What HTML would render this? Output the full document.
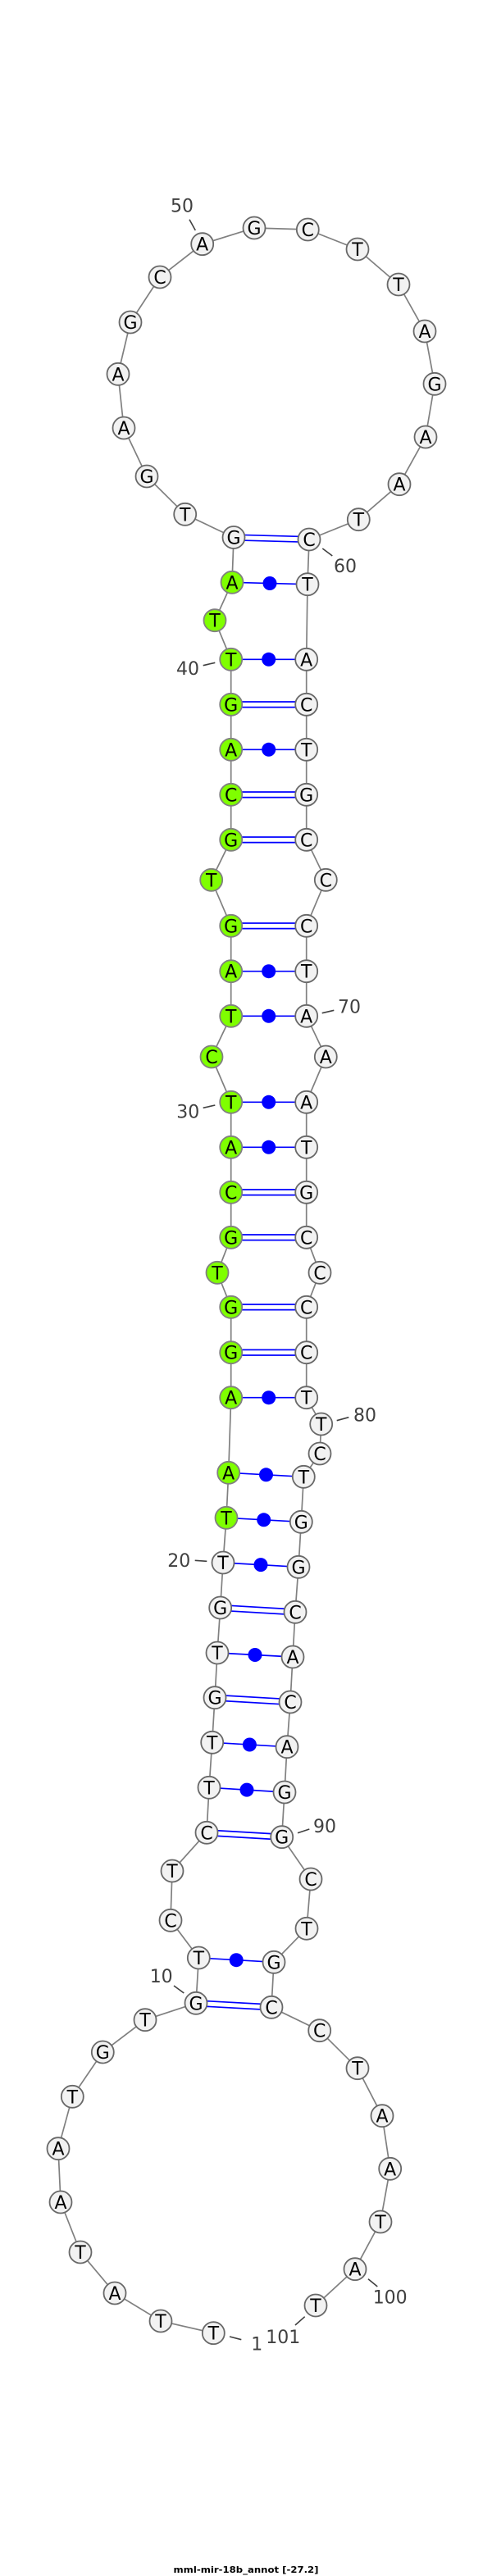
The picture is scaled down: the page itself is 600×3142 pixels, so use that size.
<!DOCTYPE html>
<html><head><meta charset="utf-8"><style>
html,body{margin:0;padding:0;background:#fff;width:600px;height:3142px;overflow:hidden}
svg{display:block}
.n circle{fill:#f2f2f2;stroke:#686868;stroke-width:1.8}
.g circle{fill:#7fff00;stroke:#808080;stroke-width:1.8}
.n text,.g text{font:22px "DejaVu Sans",sans-serif;fill:#000;text-anchor:middle;transform:translateY(.4px)}
.l text{font:22px "DejaVu Sans",sans-serif;fill:#404040;text-anchor:middle}
</style></head><body>
<svg width="600" height="3142" viewBox="0 0 600 3142" xmlns="http://www.w3.org/2000/svg">
<polyline fill="none" stroke="#808080" stroke-width="1.7" points="260.3,2845.7 196,2831 140,2797 98,2747 74,2686 71,2620.7 88.3,2557.3 125.3,2503 177,2463.7 239,2443.3 242.3,2388 208,2342.3 210,2282 252,2235.3 255,2180.3 258.7,2125.3 262,2070.7 265,2016 268.7,1961 272,1906 276,1851.3 278.7,1796.3 281.7,1704.7 281.7,1649.7 281.7,1594.3 265,1552.3 281.7,1509.3 281.7,1454.3 281.7,1399.3 281.7,1344.3 258,1289 281.7,1239.3 281.7,1184.7 281.7,1129.3 257.7,1073.3 281.7,1024.3 281.7,969.3 281.7,914.3 281.7,859.3 281.7,804.3 262,756.7 283,710.3 285,655.5 225.7,627.3 179,581 151,522 144,456.3 159,393 195,338 246.7,297.7 310,278 375.3,280 436,304 486,347 518,404 530,468.3 519,533 487,590.7 437.3,633.7 377,658 375,712.7 373.7,804.3 373.7,859.3 373.7,914.3 373.7,969.3 373.7,1024.3 397.3,1073.3 373.7,1129.3 373.7,1184.7 373.7,1239.3 397.3,1289 373.7,1344.3 373.7,1399.3 373.7,1454.3 373.7,1509.3 390,1552.3 373.7,1594.3 373.7,1649.7 373.7,1704.7 391.7,1737 390,1773 370.3,1801.3 367.3,1856.3 364,1911.3 360,1966.3 357,2021 354,2076 350,2130.7 347,2186 343.7,2240.7 379,2292 374,2352.3 334,2393.3 331,2448.3 389.7,2476.7 436,2522.7 466,2580.7 475.7,2645.3 464,2710 433,2767.7 385,2812"/>
<g fill="none" stroke="#0000ff" stroke-width="1.7">
<path d="M285 652.2L377 654.7M285 658.8L377 661.3"/>
<path d="M281.7 856L373.7 856M281.7 862.6L373.7 862.6"/>
<path d="M281.7 966L373.7 966M281.7 972.6L373.7 972.6"/>
<path d="M281.7 1021L373.7 1021M281.7 1027.6L373.7 1027.6"/>
<path d="M281.7 1126L373.7 1126M281.7 1132.6L373.7 1132.6"/>
<path d="M281.7 1451L373.7 1451M281.7 1457.6L373.7 1457.6"/>
<path d="M281.7 1506L373.7 1506M281.7 1512.6L373.7 1512.6"/>
<path d="M281.7 1591L373.7 1591M281.7 1597.6L373.7 1597.6"/>
<path d="M281.7 1646.4L373.7 1646.4M281.7 1653L373.7 1653"/>
<path d="M268.7 1957.7L360 1963M268.7 1964.3L360 1969.6"/>
<path d="M262 2067.4L354 2072.7M262 2074L354 2079.3"/>
<path d="M252 2232L343.7 2237.4M252 2238.6L343.7 2244"/>
<path d="M239 2440L331 2445M239 2446.6L331 2451.6"/>
<path d="M283 710.3L375 712.7M281.7 804.3L373.7 804.3M281.7 914.3L373.7 914.3M281.7 1184.7L373.7 1184.7M281.7 1239.3L373.7 1239.3M281.7 1344.3L373.7 1344.3M281.7 1399.3L373.7 1399.3M281.7 1704.7L373.7 1704.7M278.7 1796.3L370.3 1801.3M276 1851.3L367.3 1856.3M272 1906L364 1911.3M265 2016L357 2021M258.7 2125.3L350 2130.7M255 2180.3L347 2186M242.3 2388L334 2393.3"/>
</g>
<g fill="#0000ff">
<circle cx="329" cy="711.5" r="8.5"/><circle cx="327.7" cy="804.3" r="8.5"/><circle cx="327.7" cy="914.3" r="8.5"/><circle cx="327.7" cy="1184.7" r="8.5"/><circle cx="327.7" cy="1239.3" r="8.5"/><circle cx="327.7" cy="1344.3" r="8.5"/><circle cx="327.7" cy="1399.3" r="8.5"/><circle cx="327.7" cy="1704.7" r="8.5"/><circle cx="324.5" cy="1798.8" r="8.5"/><circle cx="321.7" cy="1853.8" r="8.5"/><circle cx="318" cy="1908.6" r="8.5"/><circle cx="311" cy="2018.5" r="8.5"/><circle cx="304.4" cy="2128" r="8.5"/><circle cx="301" cy="2183.1" r="8.5"/><circle cx="288.2" cy="2390.7" r="8.5"/>
</g>
<g stroke="#404040" stroke-width="1.6" fill="none">
<path d="M231 267.7L238.3 281M393.3 669L405.3 678M247.7 811.7L262.3 808.3M392.7 1235.7L407.3 1232.3M247.7 1351.3L262.3 1348M410.7 1732.7L425.3 1728.7M237.7 1903.3L252.3 1904.3M363 2235.7L377.3 2231M212 2422L224.3 2431M449 2779.7L460.3 2789M371.7 2825.7L360 2836M280 2850L294.3 2853.7"/>
</g>
<g class="l">
<text x="222" y="258.7">50</text><text x="421" y="698">60</text><text x="229" y="823">40</text><text x="426" y="1235.7">70</text><text x="229.3" y="1363.7">30</text><text x="445" y="1733.7">80</text><text x="218.3" y="1911">20</text><text x="396" y="2235">90</text><text x="196.7" y="2418">10</text><text x="475.7" y="2809.7">100</text><text x="345.3" y="2858">101</text><text x="313.3" y="2866.3">1</text>
</g>
<g class="n">
<g><circle cx="260.3" cy="2845.7" r="13.5"/><text x="260.3" y="2853.3">T</text></g>
<g><circle cx="196" cy="2831" r="13.5"/><text x="196" y="2838.6">T</text></g>
<g><circle cx="140" cy="2797" r="13.5"/><text x="140" y="2804.6">A</text></g>
<g><circle cx="98" cy="2747" r="13.5"/><text x="98" y="2754.6">T</text></g>
<g><circle cx="74" cy="2686" r="13.5"/><text x="74" y="2693.6">A</text></g>
<g><circle cx="71" cy="2620.7" r="13.5"/><text x="71" y="2628.3">A</text></g>
<g><circle cx="88.3" cy="2557.3" r="13.5"/><text x="88.3" y="2564.9">T</text></g>
<g><circle cx="125.3" cy="2503" r="13.5"/><text x="125.3" y="2510.6">G</text></g>
<g><circle cx="177" cy="2463.7" r="13.5"/><text x="177" y="2471.3">T</text></g>
<g><circle cx="239" cy="2443.3" r="13.5"/><text x="239" y="2450.9">G</text></g>
<g><circle cx="242.3" cy="2388" r="13.5"/><text x="242.3" y="2395.6">T</text></g>
<g><circle cx="208" cy="2342.3" r="13.5"/><text x="208" y="2349.9">C</text></g>
<g><circle cx="210" cy="2282" r="13.5"/><text x="210" y="2289.6">T</text></g>
<g><circle cx="252" cy="2235.3" r="13.5"/><text x="252" y="2242.9">C</text></g>
<g><circle cx="255" cy="2180.3" r="13.5"/><text x="255" y="2187.9">T</text></g>
<g><circle cx="258.7" cy="2125.3" r="13.5"/><text x="258.7" y="2132.9">T</text></g>
<g><circle cx="262" cy="2070.7" r="13.5"/><text x="262" y="2078.3">G</text></g>
<g><circle cx="265" cy="2016" r="13.5"/><text x="265" y="2023.6">T</text></g>
<g><circle cx="268.7" cy="1961" r="13.5"/><text x="268.7" y="1968.6">G</text></g>
<g><circle cx="272" cy="1906" r="13.5"/><text x="272" y="1913.6">T</text></g>
<g><circle cx="285" cy="655.5" r="13.5"/><text x="285" y="663.1">G</text></g>
<g><circle cx="225.7" cy="627.3" r="13.5"/><text x="225.7" y="634.9">T</text></g>
<g><circle cx="179" cy="581" r="13.5"/><text x="179" y="588.6">G</text></g>
<g><circle cx="151" cy="522" r="13.5"/><text x="151" y="529.6">A</text></g>
<g><circle cx="144" cy="456.3" r="13.5"/><text x="144" y="463.9">A</text></g>
<g><circle cx="159" cy="393" r="13.5"/><text x="159" y="400.6">G</text></g>
<g><circle cx="195" cy="338" r="13.5"/><text x="195" y="345.6">C</text></g>
<g><circle cx="246.7" cy="297.7" r="13.5"/><text x="246.7" y="305.3">A</text></g>
<g><circle cx="310" cy="278" r="13.5"/><text x="310" y="285.6">G</text></g>
<g><circle cx="375.3" cy="280" r="13.5"/><text x="375.3" y="287.6">C</text></g>
<g><circle cx="436" cy="304" r="13.5"/><text x="436" y="311.6">T</text></g>
<g><circle cx="486" cy="347" r="13.5"/><text x="486" y="354.6">T</text></g>
<g><circle cx="518" cy="404" r="13.5"/><text x="518" y="411.6">A</text></g>
<g><circle cx="530" cy="468.3" r="13.5"/><text x="530" y="475.9">G</text></g>
<g><circle cx="519" cy="533" r="13.5"/><text x="519" y="540.6">A</text></g>
<g><circle cx="487" cy="590.7" r="13.5"/><text x="487" y="598.3">A</text></g>
<g><circle cx="437.3" cy="633.7" r="13.5"/><text x="437.3" y="641.3">T</text></g>
<g><circle cx="377" cy="658" r="13.5"/><text x="377" y="665.6">C</text></g>
<g><circle cx="375" cy="712.7" r="13.5"/><text x="375" y="720.3">T</text></g>
<g><circle cx="373.7" cy="804.3" r="13.5"/><text x="373.7" y="811.9">A</text></g>
<g><circle cx="373.7" cy="859.3" r="13.5"/><text x="373.7" y="866.9">C</text></g>
<g><circle cx="373.7" cy="914.3" r="13.5"/><text x="373.7" y="921.9">T</text></g>
<g><circle cx="373.7" cy="969.3" r="13.5"/><text x="373.7" y="976.9">G</text></g>
<g><circle cx="373.7" cy="1024.3" r="13.5"/><text x="373.7" y="1031.9">C</text></g>
<g><circle cx="397.3" cy="1073.3" r="13.5"/><text x="397.3" y="1080.9">C</text></g>
<g><circle cx="373.7" cy="1129.3" r="13.5"/><text x="373.7" y="1136.9">C</text></g>
<g><circle cx="373.7" cy="1184.7" r="13.5"/><text x="373.7" y="1192.3">T</text></g>
<g><circle cx="373.7" cy="1239.3" r="13.5"/><text x="373.7" y="1246.9">A</text></g>
<g><circle cx="397.3" cy="1289" r="13.5"/><text x="397.3" y="1296.6">A</text></g>
<g><circle cx="373.7" cy="1344.3" r="13.5"/><text x="373.7" y="1351.9">A</text></g>
<g><circle cx="373.7" cy="1399.3" r="13.5"/><text x="373.7" y="1406.9">T</text></g>
<g><circle cx="373.7" cy="1454.3" r="13.5"/><text x="373.7" y="1461.9">G</text></g>
<g><circle cx="373.7" cy="1509.3" r="13.5"/><text x="373.7" y="1516.9">C</text></g>
<g><circle cx="390" cy="1552.3" r="13.5"/><text x="390" y="1559.9">C</text></g>
<g><circle cx="373.7" cy="1594.3" r="13.5"/><text x="373.7" y="1601.9">C</text></g>
<g><circle cx="373.7" cy="1649.7" r="13.5"/><text x="373.7" y="1657.3">C</text></g>
<g><circle cx="373.7" cy="1704.7" r="13.5"/><text x="373.7" y="1712.3">T</text></g>
<g><circle cx="391.7" cy="1737" r="13.5"/><text x="391.7" y="1744.6">T</text></g>
<g><circle cx="390" cy="1773" r="13.5"/><text x="390" y="1780.6">C</text></g>
<g><circle cx="370.3" cy="1801.3" r="13.5"/><text x="370.3" y="1808.9">T</text></g>
<g><circle cx="367.3" cy="1856.3" r="13.5"/><text x="367.3" y="1863.9">G</text></g>
<g><circle cx="364" cy="1911.3" r="13.5"/><text x="364" y="1918.9">G</text></g>
<g><circle cx="360" cy="1966.3" r="13.5"/><text x="360" y="1973.9">C</text></g>
<g><circle cx="357" cy="2021" r="13.5"/><text x="357" y="2028.6">A</text></g>
<g><circle cx="354" cy="2076" r="13.5"/><text x="354" y="2083.6">C</text></g>
<g><circle cx="350" cy="2130.7" r="13.5"/><text x="350" y="2138.3">A</text></g>
<g><circle cx="347" cy="2186" r="13.5"/><text x="347" y="2193.6">G</text></g>
<g><circle cx="343.7" cy="2240.7" r="13.5"/><text x="343.7" y="2248.3">G</text></g>
<g><circle cx="379" cy="2292" r="13.5"/><text x="379" y="2299.6">C</text></g>
<g><circle cx="374" cy="2352.3" r="13.5"/><text x="374" y="2359.9">T</text></g>
<g><circle cx="334" cy="2393.3" r="13.5"/><text x="334" y="2400.9">G</text></g>
<g><circle cx="331" cy="2448.3" r="13.5"/><text x="331" y="2455.9">C</text></g>
<g><circle cx="389.7" cy="2476.7" r="13.5"/><text x="389.7" y="2484.3">C</text></g>
<g><circle cx="436" cy="2522.7" r="13.5"/><text x="436" y="2530.3">T</text></g>
<g><circle cx="466" cy="2580.7" r="13.5"/><text x="466" y="2588.3">A</text></g>
<g><circle cx="475.7" cy="2645.3" r="13.5"/><text x="475.7" y="2652.9">A</text></g>
<g><circle cx="464" cy="2710" r="13.5"/><text x="464" y="2717.6">T</text></g>
<g><circle cx="433" cy="2767.7" r="13.5"/><text x="433" y="2775.3">A</text></g>
<g><circle cx="385" cy="2812" r="13.5"/><text x="385" y="2819.6">T</text></g>
</g>
<g class="g">
<g><circle cx="276" cy="1851.3" r="13.5"/><text x="276" y="1858.9">T</text></g>
<g><circle cx="278.7" cy="1796.3" r="13.5"/><text x="278.7" y="1803.9">A</text></g>
<g><circle cx="281.7" cy="1704.7" r="13.5"/><text x="281.7" y="1712.3">A</text></g>
<g><circle cx="281.7" cy="1649.7" r="13.5"/><text x="281.7" y="1657.3">G</text></g>
<g><circle cx="281.7" cy="1594.3" r="13.5"/><text x="281.7" y="1601.9">G</text></g>
<g><circle cx="265" cy="1552.3" r="13.5"/><text x="265" y="1559.9">T</text></g>
<g><circle cx="281.7" cy="1509.3" r="13.5"/><text x="281.7" y="1516.9">G</text></g>
<g><circle cx="281.7" cy="1454.3" r="13.5"/><text x="281.7" y="1461.9">C</text></g>
<g><circle cx="281.7" cy="1399.3" r="13.5"/><text x="281.7" y="1406.9">A</text></g>
<g><circle cx="281.7" cy="1344.3" r="13.5"/><text x="281.7" y="1351.9">T</text></g>
<g><circle cx="258" cy="1289" r="13.5"/><text x="258" y="1296.6">C</text></g>
<g><circle cx="281.7" cy="1239.3" r="13.5"/><text x="281.7" y="1246.9">T</text></g>
<g><circle cx="281.7" cy="1184.7" r="13.5"/><text x="281.7" y="1192.3">A</text></g>
<g><circle cx="281.7" cy="1129.3" r="13.5"/><text x="281.7" y="1136.9">G</text></g>
<g><circle cx="257.7" cy="1073.3" r="13.5"/><text x="257.7" y="1080.9">T</text></g>
<g><circle cx="281.7" cy="1024.3" r="13.5"/><text x="281.7" y="1031.9">G</text></g>
<g><circle cx="281.7" cy="969.3" r="13.5"/><text x="281.7" y="976.9">C</text></g>
<g><circle cx="281.7" cy="914.3" r="13.5"/><text x="281.7" y="921.9">A</text></g>
<g><circle cx="281.7" cy="859.3" r="13.5"/><text x="281.7" y="866.9">G</text></g>
<g><circle cx="281.7" cy="804.3" r="13.5"/><text x="281.7" y="811.9">T</text></g>
<g><circle cx="262" cy="756.7" r="13.5"/><text x="262" y="764.3">T</text></g>
<g><circle cx="283" cy="710.3" r="13.5"/><text x="283" y="717.9">A</text></g>
</g>
<text x="300" y="3138" text-anchor="middle" textLength="177" lengthAdjust="spacingAndGlyphs" font-family="'DejaVu Sans',sans-serif" font-size="11" font-weight="bold" fill="#000">mml-mir-18b_annot [-27.2]</text>
</svg>
</body></html>
